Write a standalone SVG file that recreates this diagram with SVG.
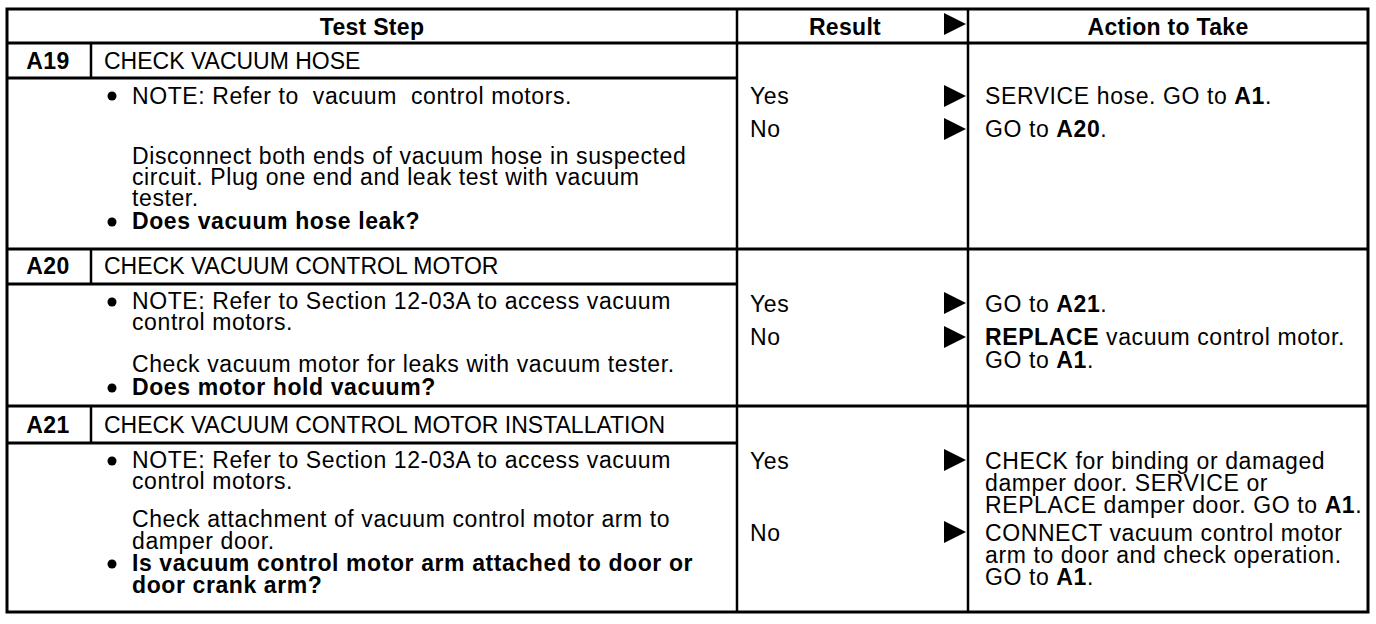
<svg xmlns="http://www.w3.org/2000/svg" xmlns:xlink="http://www.w3.org/1999/xlink" width="1376" height="624" viewBox="0 0 1376 624">
<style>
text{font-family:"Liberation Sans",Arial,Helvetica,sans-serif;font-size:23px;fill:#000;letter-spacing:0.6px}
.b{font-weight:bold}
.t{letter-spacing:0}
.h{font-weight:bold;text-anchor:middle;letter-spacing:0.3px}
.id{font-weight:bold;text-anchor:middle;letter-spacing:0.5px}
.ln{stroke:#000;stroke-width:3;fill:none}
.vl{stroke:#000;stroke-width:2.5;fill:none}
</style>
<defs>
<polygon id="tri" points="0,-11 22,0 0,11" fill="#000"/>
<circle id="dot" r="4.5" fill="#000"/>
</defs>
<rect width="1376" height="624" fill="#fff"/>
<g id="grid">
<rect x="7" y="9" width="1361" height="603" class="ln"/>
<line x1="7" y1="43" x2="1368" y2="43" class="ln"/>
<line x1="737" y1="9" x2="737" y2="612" class="vl"/>
<line x1="968" y1="9" x2="968" y2="612" class="vl"/>
<line x1="7" y1="78" x2="737" y2="78" class="ln"/>
<line x1="7" y1="249" x2="1368" y2="249" class="ln"/>
<line x1="7" y1="284" x2="737" y2="284" class="ln"/>
<line x1="7" y1="406" x2="1368" y2="406" class="ln"/>
<line x1="7" y1="443" x2="737" y2="443" class="ln"/>
<line x1="91" y1="43" x2="91" y2="78" class="vl"/>
<line x1="91" y1="249" x2="91" y2="284" class="vl"/>
<line x1="91" y1="406" x2="91" y2="443" class="vl"/>
</g>
<g id="header">
<text x="372" y="35" class="h">Test Step</text>
<text x="845" y="35" class="h">Result</text>
<text x="1168" y="35" class="h">Action to Take</text>
</g>
<g id="step-A19">
<text x="48" y="69" class="id">A19</text>
<text x="104" y="69" class="t">CHECK VACUUM HOSE</text>
<use xlink:href="#dot" x="112" y="96"/>
<text x="132" y="104" xml:space="preserve">NOTE: Refer to  vacuum  control motors.</text>
<text x="132" y="164">Disconnect both ends of vacuum hose in suspected</text>
<text x="132" y="185">circuit. Plug one end and leak test with vacuum</text>
<text x="132" y="206">tester.</text>
<use xlink:href="#dot" x="112" y="222"/>
<text x="132" y="229" class="b">Does vacuum hose leak?</text>
<text x="750" y="104">Yes</text>
<text x="750" y="137">No</text>
<text x="985" y="104">SERVICE hose. GO to <tspan class="b">A1</tspan>.</text>
<text x="985" y="137">GO to <tspan class="b">A20</tspan>.</text>
</g>
<g id="step-A20">
<text x="48" y="274" class="id">A20</text>
<text x="104" y="274" class="t">CHECK VACUUM CONTROL MOTOR</text>
<use xlink:href="#dot" x="112" y="302"/>
<text x="132" y="309">NOTE: Refer to Section 12-03A to access vacuum</text>
<text x="132" y="330">control motors.</text>
<text x="132" y="372">Check vacuum motor for leaks with vacuum tester.</text>
<use xlink:href="#dot" x="112" y="388"/>
<text x="132" y="395" class="b">Does motor hold vacuum?</text>
<text x="750" y="312">Yes</text>
<text x="750" y="345">No</text>
<text x="985" y="312">GO to <tspan class="b">A21</tspan>.</text>
<text x="985" y="345"><tspan class="b">REPLACE</tspan> vacuum control motor.</text>
<text x="985" y="368">GO to <tspan class="b">A1</tspan>.</text>
</g>
<g id="step-A21">
<text x="48" y="433" class="id">A21</text>
<text x="104" y="433" class="t">CHECK VACUUM CONTROL MOTOR INSTALLATION</text>
<use xlink:href="#dot" x="112" y="461"/>
<text x="132" y="468">NOTE: Refer to Section 12-03A to access vacuum</text>
<text x="132" y="489">control motors.</text>
<text x="132" y="527">Check attachment of vacuum control motor arm to</text>
<text x="132" y="549">damper door.</text>
<use xlink:href="#dot" x="112" y="564"/>
<text x="132" y="571" class="b">Is vacuum control motor arm attached to door or</text>
<text x="132" y="593" class="b">door crank arm?</text>
<text x="750" y="469">Yes</text>
<text x="750" y="541">No</text>
<text x="985" y="469">CHECK for binding or damaged</text>
<text x="985" y="491">damper door. SERVICE or</text>
<text x="985" y="513">REPLACE damper door. GO to <tspan class="b">A1</tspan>.</text>
<text x="985" y="541">CONNECT vacuum control motor</text>
<text x="985" y="563">arm to door and check operation.</text>
<text x="985" y="585">GO to <tspan class="b">A1</tspan>.</text>
</g>
<g id="connectors">
<use xlink:href="#tri" x="944" y="24"/>
<use xlink:href="#tri" x="944" y="96"/>
<use xlink:href="#tri" x="944" y="129"/>
<use xlink:href="#tri" x="944" y="303"/>
<use xlink:href="#tri" x="944" y="337"/>
<use xlink:href="#tri" x="944" y="460"/>
<use xlink:href="#tri" x="944" y="532"/>
</g>
</svg>
